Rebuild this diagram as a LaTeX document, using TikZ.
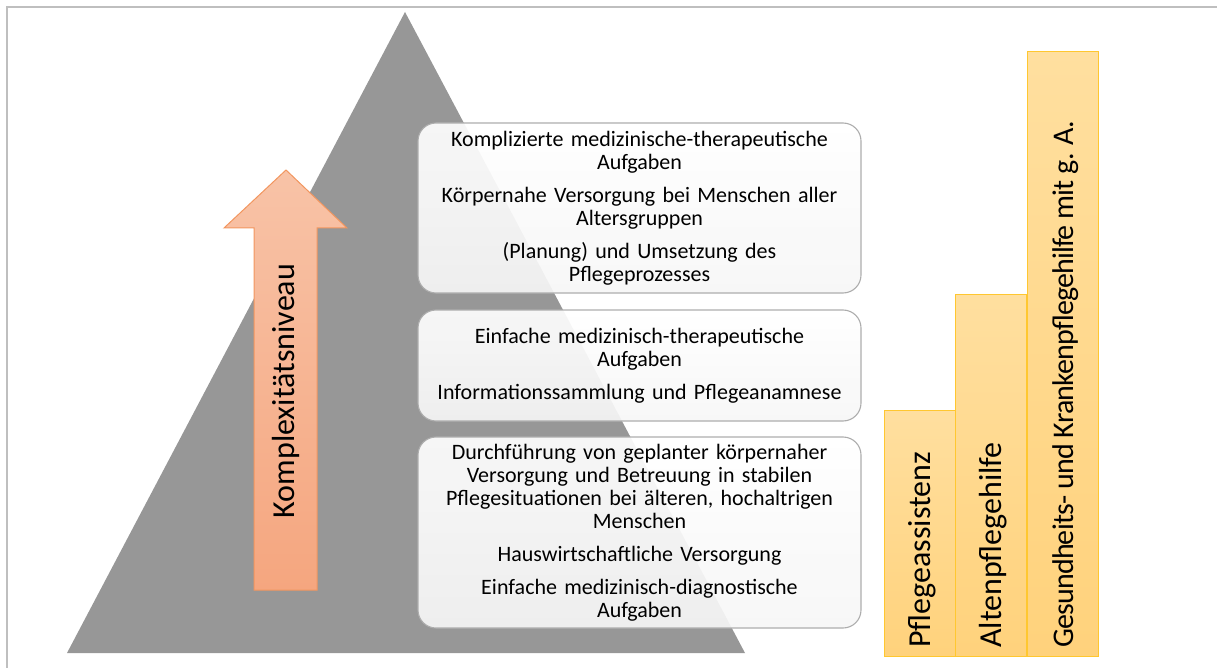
\documentclass[tikz,border=0pt]{standalone}
\usepackage{fontspec}
\setmainfont{Carlito}
\definecolor{pyramid}{HTML}{979797}
\definecolor{framegray}{HTML}{BFBFBF}
\definecolor{boxline}{HTML}{ADADAD}
\definecolor{boxbottom}{HTML}{F6F6F6}
\definecolor{arrowtop}{HTML}{F8C3A7}
\definecolor{arrowbottom}{HTML}{F5A67F}
\definecolor{arrowline}{HTML}{F2965F}
\definecolor{bartop}{HTML}{FFDF9F}
\definecolor{barbottom}{HTML}{FFD27C}
\definecolor{barline}{HTML}{FFC730}
\begin{document}
\begin{tikzpicture}[x=1pt,y=-1pt,
  taskbox/.style={draw=boxline,line width=1.1pt,rounded corners=18pt,top color=white,bottom color=boxbottom,fill opacity=0.92,text opacity=1,align=center,text width=436pt,minimum width=443pt,inner sep=0pt,font=\fontsize{22}{23}\selectfont},
  levelbar/.style={draw=barline,line width=1pt,top color=bartop,bottom color=barbottom,minimum width=71pt,inner sep=0pt,anchor=south west},
  bartext/.style={rotate=90,anchor=west,inner sep=0pt,font=\fontsize{32}{36}\selectfont}]
\useasboundingbox (0,0) rectangle (1217,668);
\draw[framegray,line width=1.5pt] (7,680) -- (7,7) -- (1230,7);
\fill[pyramid] (405,12) -- (745,653) -- (67,653) -- cycle;
\draw[arrowline,line width=1pt,top color=arrowtop,bottom color=arrowbottom] (254,590) -- (254,228) -- (224,228) -- (286,170) -- (347,228) -- (317,228) -- (317,590) -- cycle;
\node[rotate=90,inner sep=0pt,font=\fontsize{32}{36}\selectfont] (level) at (286,391) {Komplexitätsniveau};
\node[taskbox,minimum height=170pt] (complex) at (639.5,208) {Komplizierte medizinische-therapeutische\\Aufgaben\\[10pt]Körpernahe Versorgung bei Menschen aller\\Altersgruppen\\[10pt](Planung) und Umsetzung des\\Pflegeprozesses};
\node[taskbox,minimum height=111pt] (simple) at (639.5,365.5) {Einfache medizinisch-therapeutische\\Aufgaben\\[10pt]Informationssammlung und Pflegeanamnese};
\node[taskbox,minimum height=191pt] (basic) at (639.5,532.5) {Durchführung von geplanter körpernaher\\Versorgung und Betreuung in stabilen\\Pflegesituationen bei älteren, hochaltrigen\\Menschen\\[10pt]Hauswirtschaftliche Versorgung\\[10pt]Einfache medizinisch-diagnostische\\Aufgaben};
\node[levelbar,minimum height=246pt] (assist) at (884,657) {};
\node[levelbar,minimum height=362pt] (elder) at (955,657) {};
\node[levelbar,minimum height=605pt] (nurse) at (1027,657) {};
\node[bartext] (assisttext) at ([xshift=2pt,yshift=9pt]assist.south) {Pflegeassistenz};
\node[bartext] (eldertext) at ([xshift=2pt,yshift=9pt]elder.south) {Altenpflegehilfe};
\node[bartext,font=\fontsize{30}{34}\selectfont\addfontfeature{LetterSpace=-2.8}] (nursetext) at ([xshift=3pt,yshift=9pt]nurse.south) {Gesundheits- und Krankenpflegehilfe mit g. A.};
\end{tikzpicture}
\end{document}
